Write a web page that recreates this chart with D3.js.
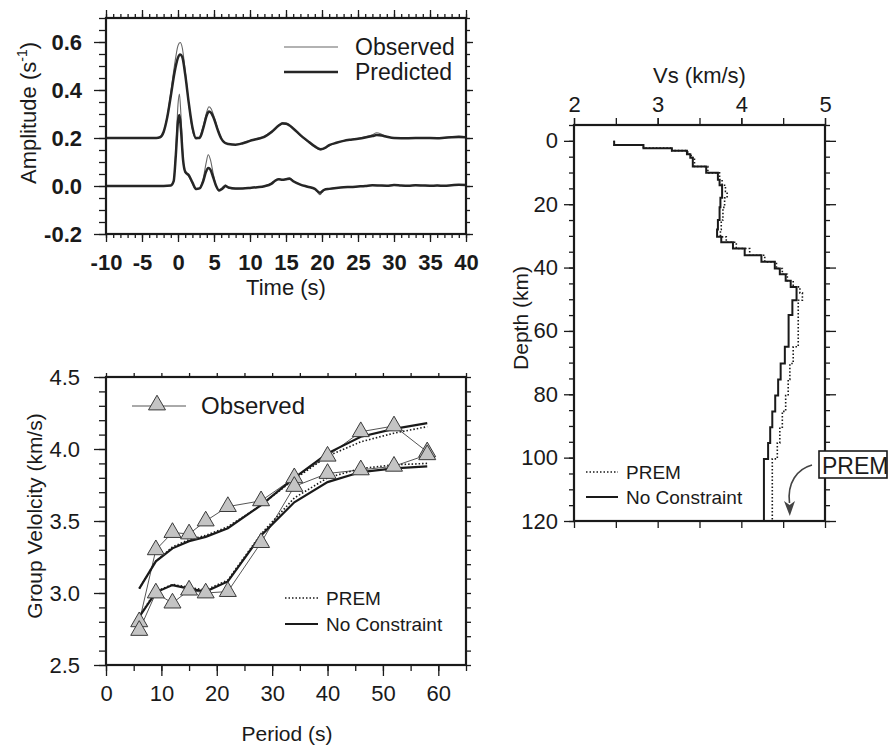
<!DOCTYPE html>
<html>
<head>
<meta charset="utf-8">
<script src="https://cdn.jsdelivr.net/npm/d3@7/dist/d3.min.js"></script>
<style>
  html, body { margin: 0; padding: 0; background: #fff; }
  svg { display: block; font-family: "Liberation Sans", Arial, Helvetica, sans-serif; }
</style>
</head>
<body>
<svg id="chart" width="889" height="749"></svg>
<script>
// ---------------- DATA ----------------
// Panel A: waveforms (time in s, amplitude in 1/s; upper trace plotted with +0.2 offset)
const timeUpper = [-10,-4,-3,-2.5,-2,-1.5,-1,-0.5,0,0.3,0.6,1,1.5,2,2.5,3,3.5,4,4.3,4.6,5,5.5,6,6.5,7,8,9,10,11,12,13,14,14.5,15,16,17,18,19,19.8,20.5,21,22,23,24,25,26,27,27.6,28.3,29,30,32,34,36,37,38,39,40];
const observedUpper = [0.2,0.2,0.2,0.203,0.225,0.29,0.39,0.5,0.585,0.598,0.575,0.48,0.345,0.235,0.196,0.205,0.25,0.31,0.33,0.322,0.29,0.24,0.2,0.182,0.176,0.173,0.18,0.19,0.198,0.208,0.228,0.255,0.264,0.262,0.24,0.21,0.185,0.162,0.15,0.158,0.168,0.18,0.188,0.193,0.198,0.205,0.213,0.222,0.215,0.205,0.2,0.199,0.2,0.198,0.2,0.205,0.208,0.205];
const predictedUpper = [0.2,0.2,0.2,0.203,0.225,0.285,0.375,0.47,0.535,0.548,0.537,0.465,0.345,0.245,0.2,0.2,0.24,0.295,0.31,0.305,0.28,0.235,0.198,0.18,0.175,0.172,0.178,0.188,0.196,0.205,0.225,0.252,0.26,0.259,0.24,0.212,0.188,0.165,0.153,0.16,0.17,0.18,0.188,0.193,0.197,0.202,0.208,0.212,0.21,0.205,0.2,0.199,0.2,0.199,0.201,0.203,0.204,0.203];
const timeLower = [-10,-2,-1,-0.6,-0.3,0,0.2,0.4,0.7,1,1.5,2,2.5,3,3.5,3.9,4.2,4.5,4.9,5.3,5.7,6.2,6.6,7,8,9,10,11,12,13,13.5,14,14.5,15,15.5,16,17,18,19,19.7,20.3,21,22,23,24,25,26,27,28,29,30,31,32,33,34,35,36,37,38,39,40];
const observedLower = [0,0,0.002,0.02,0.15,0.34,0.383,0.3,0.12,0.055,0.04,0.01,-0.015,-0.008,0.03,0.095,0.13,0.11,0.05,0,-0.022,-0.005,0.005,-0.008,-0.012,-0.01,-0.008,-0.005,0,0.012,0.025,0.03,0.024,0.03,0.034,0.022,0.006,-0.002,-0.01,-0.036,-0.015,-0.012,-0.008,-0.005,-0.004,-0.002,0,0.004,0.002,0,0.005,0.002,0,0.004,0.002,0,0.003,0,0.003,0.006,0.004];
const predictedLower = [0,0,0.002,0.02,0.13,0.27,0.296,0.24,0.11,0.06,0.045,0.015,-0.012,-0.01,0.02,0.06,0.075,0.068,0.035,0,-0.018,-0.01,0,-0.006,-0.01,-0.01,-0.008,-0.005,-0.001,0.01,0.022,0.028,0.026,0.028,0.03,0.02,0.006,-0.003,-0.012,-0.028,-0.016,-0.012,-0.008,-0.005,-0.004,-0.002,0,0.003,0.002,0.001,0.004,0.002,0.001,0.003,0.002,0.001,0.002,0.001,0.003,0.005,0.004];
const timeTicks = [-10,-5,0,5,10,15,20,25,30,35,40];
const ampTicks = [-0.2,0.0,0.2,0.4,0.6];

// Panel B: group velocity dispersion
const periods = [6,9,12,15,18,22,28,34,40,46,52,58];
const obsUpper = [2.80,3.30,3.42,3.41,3.50,3.60,3.64,3.80,3.95,4.12,4.16,3.98];
const obsLower = [2.74,3.00,2.93,3.02,3.00,3.01,3.35,3.74,3.83,3.855,3.88,3.96];
const noConUpper = [3.03,3.22,3.31,3.36,3.39,3.45,3.61,3.80,3.97,4.085,4.14,4.18];
const premUpper = [3.03,3.22,3.32,3.37,3.40,3.46,3.61,3.79,3.95,4.05,4.11,4.155];
const noConLower = [2.835,3.005,3.055,3.03,3.01,3.08,3.40,3.63,3.77,3.84,3.865,3.88];
const premLower = [2.84,3.01,3.06,3.04,3.02,3.09,3.41,3.66,3.80,3.865,3.89,3.90];
const periodTicks = [0,10,20,30,40,50,60];
const velTicks = [2.5,3.0,3.5,4.0,4.5];

// Panel C: Vs profiles (layer top depth in km, Vs in km/s)
const noConDepth = [0,1.3,2.3,3.1,4.2,5.3,8.1,10.1,12.3,14,18,21,25,28,30.3,32,34,36.1,38.2,40.3,42.1,44.2,46.1,50.3,55,65,70.3,75.3,80.4,85.4,90.4,95.4,100.4];
const noConVs = [2.48,2.83,3.17,3.35,3.39,3.42,3.58,3.72,3.74,3.77,3.75,3.74,3.72,3.71,3.76,3.90,4.04,4.24,4.40,4.46,4.53,4.59,4.66,4.61,4.565,4.52,4.47,4.44,4.405,4.37,4.345,4.32,4.27];
const premDepth = [0,1.3,2.3,3.1,4.2,5.3,8.1,10.1,12.3,14,16,18,21,25,28,30.3,32,34,36.1,38.2,40.3,42.1,44.2,46.1,48,50.3,65,70.3,75.3,80.4,85.4,90.4,95.4,100.4];
const premVs = [2.48,2.83,3.17,3.36,3.40,3.44,3.60,3.74,3.77,3.81,3.83,3.80,3.78,3.76,3.75,3.82,3.94,4.10,4.28,4.42,4.49,4.55,4.62,4.70,4.73,4.68,4.62,4.58,4.56,4.53,4.49,4.46,4.43,4.37];
const vsTicks = [2,3,4,5];
const depthTicks = [0,20,40,60,80,100,120];
const maxDepth = 120;

// ---------------- HELPERS ----------------
const svg = d3.select("#chart");
const INK = "#1a1a1a";

function axis(g, fn, scale, values, size, pad, fmt) {
  const ax = fn(scale).tickValues(values).tickSize(size).tickSizeOuter(0).tickPadding(pad)
    .tickFormat(fmt || (() => ""));
  g.call(ax);
  g.select(".domain").remove();
  g.selectAll(".tick line").attr("stroke", INK).attr("stroke-width", 1.3);
  g.selectAll(".tick text").attr("fill", INK).attr("font-family", null);
  return g;
}
function range(a, b, s) { const out = []; for (let v = a; v <= b + 1e-9; v += s) out.push(+v.toFixed(6)); return out; }
function frame(x, y) {
  svg.append("rect")
    .attr("x", x.range()[0]).attr("y", Math.min(...y.range()))
    .attr("width", x.range()[1] - x.range()[0])
    .attr("height", Math.abs(y.range()[1] - y.range()[0]))
    .attr("fill", "none").attr("stroke", INK).attr("stroke-width", 2.2);
}

// ---------------- PANEL A ----------------
{
  const x = d3.scaleLinear().domain([-10, 40]).range([106, 466]);
  const y = d3.scaleLinear().domain([-0.2, 0.7]).range([234, 18]);
  const x0 = x.range()[0], x1 = x.range()[1], yb = y.range()[0], yt = y.range()[1];
  const fmtT = d => String(d);
  const fmtA = d => d.toFixed(1);
  axis(svg.append("g").attr("transform", `translate(0,${yb})`), d3.axisBottom, x, range(-10, 40, 1), 4, 0);
  axis(svg.append("g").attr("transform", `translate(0,${yb})`), d3.axisBottom, x, timeTicks, 8, 12, fmtT)
    .selectAll("text").attr("font-size", 22).attr("font-weight", "bold");
  axis(svg.append("g").attr("transform", `translate(0,${yt})`), d3.axisTop, x, range(-10, 40, 1), 4, 0);
  axis(svg.append("g").attr("transform", `translate(0,${yt})`), d3.axisTop, x, timeTicks, 8, 0);
  axis(svg.append("g").attr("transform", `translate(${x0},0)`), d3.axisLeft, y, range(-0.2, 0.7, 0.05), 7, 0);
  axis(svg.append("g").attr("transform", `translate(${x0},0)`), d3.axisLeft, y, ampTicks, 12, 12, fmtA)
    .selectAll("text").attr("font-size", 22).attr("font-weight", "bold");
  axis(svg.append("g").attr("transform", `translate(${x1},0)`), d3.axisRight, y, range(-0.2, 0.7, 0.05), 4, 0);
  axis(svg.append("g").attr("transform", `translate(${x1},0)`), d3.axisRight, y, ampTicks, 7, 0);

  const line = d3.line().x(d => x(d[0])).y(d => y(d[1])).curve(d3.curveMonotoneX);
  const series = [
    { t: timeUpper, v: observedUpper, c: "#666", w: 1.1 },
    { t: timeLower, v: observedLower, c: "#666", w: 1.1 },
    { t: timeUpper, v: predictedUpper, c: "#262626", w: 2.5 },
    { t: timeLower, v: predictedLower, c: "#262626", w: 2.5 }
  ];
  series.forEach(s => {
    svg.append("path").datum(s.t.map((t, i) => [t, s.v[i]]))
      .attr("d", line).attr("fill", "none").attr("stroke", s.c).attr("stroke-width", s.w)
      .attr("stroke-linejoin", "round");
  });
  frame(x, y);

  const lg = [{ label: "Observed", c: "#666", w: 1.1, yy: 47 }, { label: "Predicted", c: "#262626", w: 2.5, yy: 72 }];
  lg.forEach(l => {
    svg.append("line").attr("x1", 284).attr("x2", 338).attr("y1", l.yy).attr("y2", l.yy)
      .attr("stroke", l.c).attr("stroke-width", l.w);
    svg.append("text").attr("x", 355).attr("y", l.yy + 8).attr("font-size", 23).attr("fill", INK).text(l.label);
  });
  svg.append("text").attr("x", (x0 + x1) / 2).attr("y", 295).attr("text-anchor", "middle")
    .attr("font-size", 22).attr("fill", INK).text("Time (s)");
  const at = svg.append("text").attr("transform", "translate(36,113) rotate(-90)")
    .attr("text-anchor", "middle").attr("font-size", 22).attr("fill", INK);
  at.append("tspan").text("Amplitude (s");
  at.append("tspan").attr("font-size", 14).attr("dy", -9).text("-1");
  at.append("tspan").attr("dy", 9).text(")");
}

// ---------------- PANEL B ----------------
{
  const x = d3.scaleLinear().domain([0, 65]).range([106, 466]);
  const y = d3.scaleLinear().domain([2.5, 4.5]).range([665, 377]);
  const x0 = x.range()[0], x1 = x.range()[1], yb = y.range()[0], yt = y.range()[1];
  axis(svg.append("g").attr("transform", `translate(0,${yb})`), d3.axisBottom, x, range(0, 65, 5), 6, 0);
  axis(svg.append("g").attr("transform", `translate(0,${yb})`), d3.axisBottom, x, periodTicks, 11, 9, d => String(d))
    .selectAll("text").attr("font-size", 22);
  axis(svg.append("g").attr("transform", `translate(0,${yt})`), d3.axisTop, x, range(0, 65, 5), 4, 0);
  axis(svg.append("g").attr("transform", `translate(${x0},0)`), d3.axisLeft, y, range(2.5, 4.5, 0.1), 7, 0);
  axis(svg.append("g").attr("transform", `translate(${x0},0)`), d3.axisLeft, y, velTicks, 12, 14, d => d.toFixed(1))
    .selectAll("text").attr("font-size", 22);
  axis(svg.append("g").attr("transform", `translate(${x1},0)`), d3.axisRight, y, range(2.5, 4.5, 0.1), 5, 0);

  const line = d3.line().x(d => x(d[0])).y(d => y(d[1]));
  const pts = v => periods.map((p, i) => [p, v[i]]);
  [obsUpper, obsLower].forEach(v => {
    svg.append("path").datum(pts(v)).attr("d", line).attr("fill", "none")
      .attr("stroke", "#555").attr("stroke-width", 1);
  });
  [premUpper, premLower].forEach(v => {
    svg.append("path").datum(pts(v)).attr("d", line).attr("fill", "none")
      .attr("stroke", INK).attr("stroke-width", 1.6).attr("stroke-dasharray", "1.5,2");
  });
  [noConUpper, noConLower].forEach(v => {
    svg.append("path").datum(pts(v)).attr("d", line).attr("fill", "none")
      .attr("stroke", INK).attr("stroke-width", 2.2);
  });
  const tri = d3.symbol(d3.symbolTriangle).size(125);
  [obsUpper, obsLower].forEach(v => {
    svg.append("g").selectAll("path").data(pts(v)).join("path")
      .attr("d", tri).attr("transform", d => `translate(${x(d[0])},${y(d[1])})`)
      .attr("fill", "#c4c4c4").attr("stroke", "#3a3a3a").attr("stroke-width", 1);
  });
  frame(x, y);

  svg.append("line").attr("x1", 132).attr("x2", 186).attr("y1", 406).attr("y2", 406).attr("stroke", "#555").attr("stroke-width", 1);
  svg.append("path").attr("d", tri).attr("transform", "translate(157,405)").attr("fill", "#c4c4c4").attr("stroke", "#3a3a3a");
  svg.append("text").attr("x", 201).attr("y", 414).attr("font-size", 24).attr("fill", INK).text("Observed");
  svg.append("line").attr("x1", 285).attr("x2", 318).attr("y1", 598).attr("y2", 598)
    .attr("stroke", INK).attr("stroke-width", 1.6).attr("stroke-dasharray", "1.5,2");
  svg.append("text").attr("x", 326).attr("y", 605).attr("font-size", 19).attr("fill", INK).text("PREM");
  svg.append("line").attr("x1", 285).attr("x2", 318).attr("y1", 624).attr("y2", 624)
    .attr("stroke", INK).attr("stroke-width", 2.2);
  svg.append("text").attr("x", 326).attr("y", 631).attr("font-size", 19).attr("fill", INK).text("No Constraint");

  svg.append("text").attr("x", (x0 + x1) / 2 + 1).attr("y", 741).attr("text-anchor", "middle")
    .attr("font-size", 21).attr("fill", INK).text("Period (s)");
  svg.append("text").attr("transform", "translate(42,516) rotate(-90)").attr("text-anchor", "middle")
    .attr("font-size", 21).attr("fill", INK).text("Group Velolcity (km/s)");
}

// ---------------- PANEL C ----------------
{
  const x = d3.scaleLinear().domain([2, 5]).range([574, 825]);
  const y = d3.scaleLinear().domain([-5, 120]).range([125, 521]);
  const x0 = x.range()[0], x1 = x.range()[1], yt = y.range()[0], yb = y.range()[1];
  axis(svg.append("g").attr("transform", `translate(0,${yt})`), d3.axisTop, x, range(2, 5, 0.5), 7, 0);
  axis(svg.append("g").attr("transform", `translate(0,${yt})`), d3.axisTop, x, vsTicks, 7, 6, d => String(d))
    .selectAll("text").attr("font-size", 22);
  axis(svg.append("g").attr("transform", `translate(0,${yb})`), d3.axisBottom, x, range(2, 5, 0.5), 7, 0);
  axis(svg.append("g").attr("transform", `translate(${x0},0)`), d3.axisLeft, y, range(-5, 120, 5), 5, 0);
  axis(svg.append("g").attr("transform", `translate(${x0},0)`), d3.axisLeft, y, depthTicks, 10, 6, d => String(d))
    .selectAll("text").attr("font-size", 22);
  axis(svg.append("g").attr("transform", `translate(${x1},0)`), d3.axisRight, y, range(-5, 120, 5), 5, 0);
  axis(svg.append("g").attr("transform", `translate(${x1},0)`), d3.axisRight, y, depthTicks, 11, 0);

  const line = d3.line().x(d => x(d[0])).y(d => y(d[1])).curve(d3.curveStepBefore);
  const prof = (dep, vs) => {
    const p = dep.map((d, i) => [vs[i], d]);
    p.push([vs[vs.length - 1], maxDepth]);
    return p;
  };
  svg.append("path").datum(prof(premDepth, premVs)).attr("d", line).attr("fill", "none")
    .attr("stroke", INK).attr("stroke-width", 1.6).attr("stroke-dasharray", "1.5,2");
  svg.append("path").datum(prof(noConDepth, noConVs)).attr("d", line).attr("fill", "none")
    .attr("stroke", INK).attr("stroke-width", 2);
  frame(x, y);

  svg.append("line").attr("x1", 586).attr("x2", 618).attr("y1", 472).attr("y2", 472)
    .attr("stroke", INK).attr("stroke-width", 1.6).attr("stroke-dasharray", "1.5,2");
  svg.append("text").attr("x", 626).attr("y", 479).attr("font-size", 19).attr("fill", INK).text("PREM");
  svg.append("line").attr("x1", 586).attr("x2", 618).attr("y1", 497).attr("y2", 497)
    .attr("stroke", INK).attr("stroke-width", 2);
  svg.append("text").attr("x", 626).attr("y", 504).attr("font-size", 19).attr("fill", INK).text("No Constraint");

  svg.append("text").attr("x", (x0 + x1) / 2).attr("y", 83).attr("text-anchor", "middle")
    .attr("font-size", 22).attr("fill", INK).text("Vs (km/s)");
  svg.append("text").attr("transform", "translate(528,318) rotate(-90)").attr("text-anchor", "middle")
    .attr("font-size", 21).attr("fill", INK).text("Depth (km)");

  svg.append("rect").attr("x", 819).attr("y", 451).attr("width", 68).attr("height", 27)
    .attr("fill", "#fff").attr("stroke", INK).attr("stroke-width", 1.6);
  svg.append("text").attr("x", 822).attr("y", 474).attr("font-size", 23).attr("fill", INK).text("PREM");
  svg.append("path").attr("d", "M812,465 C797,469 787,483 789.5,503")
    .attr("fill", "none").attr("stroke", "#444").attr("stroke-width", 1.6);
  svg.append("path").attr("d", "M784,501 L789.8,516 L795,501 L789.6,505 Z").attr("fill", "#444");
}
</script>
</body>
</html>
